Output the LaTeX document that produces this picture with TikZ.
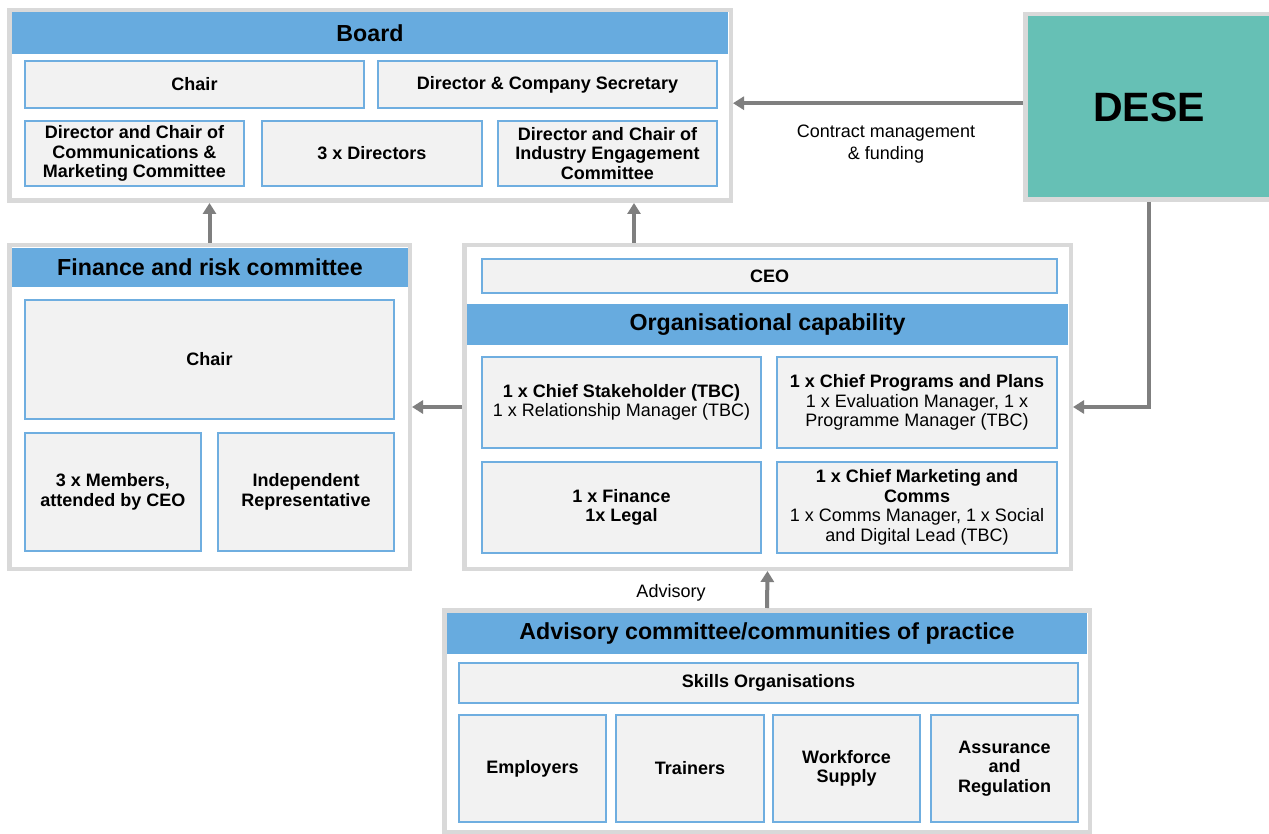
\documentclass[tikz,border=0pt]{standalone}
\usepackage{fontspec}
\setmainfont{Liberation Sans}
\usetikzlibrary{arrows.meta,calc}
\definecolor{hdrblue}{HTML}{67ABDF}
\definecolor{bxblue}{HTML}{6FAEE0}
\definecolor{bxfill}{HTML}{F2F2F2}
\definecolor{outgray}{HTML}{D9D9D9}
\definecolor{tealbox}{HTML}{66C0B5}
\definecolor{arrgray}{HTML}{7F7F7F}
% #1 style, #2 line width (number), #3 x1, #4 y1, #5 x2, #6 y2, #7 name, #8 text
\newcommand\bx[8]{\node[#1, line width=#2pt, minimum width={#5-#3-#2}, minimum height={#6-#4-#2}] (#7) at ({(#3+#5)/2},{(#4+#6)/2}) {#8};}
\begin{document}
\begin{tikzpicture}[x=1pt,y=-1pt,
  every node/.style={inner sep=0pt, align=center, text=black},
  outerbox/.style={draw=outgray, fill=white},
  hdr/.style={fill=hdrblue, font=\fontsize{23.2}{27}\selectfont\bfseries},
  ibox/.style={draw=bxblue, fill=bxfill, font=\fontsize{18}{19.5}\selectfont\bfseries},
  desebox/.style={draw=outgray, fill=tealbox, font=\fontsize{41}{45}\selectfont\bfseries},
  lbl/.style={font=\fontsize{18}{22}\selectfont},
  arr/.style={draw=arrgray, line width=4pt, -{Triangle[width=13pt,length=11pt]}}
]
\useasboundingbox (0,0) rectangle (1269,834);
\fill[white] (0,0) rectangle (1269,834);

% ---------- Board ----------
\bx{outerbox}{4.5}{7}{8}{733}{203}{board}{}
\bx{hdr}{0}{12}{12}{728}{54}{boardh}{Board}
\bx{ibox}{2}{24}{60}{365}{109}{bchair}{Chair}
\bx{ibox}{2}{377}{60}{718}{109}{bsec}{Director \& Company Secretary}
\bx{ibox}{2}{24}{120}{245}{187}{bcomms}{Director and Chair of\\Communications \&\\Marketing Committee}
\bx{ibox}{2}{261}{120}{483}{187}{bdirs}{3 x Directors}
\bx{ibox}{2}{497}{120}{718}{187}{bind}{Director and Chair of\\Industry Engagement\\Committee}

% ---------- DESE ----------
\bx{desebox}{4.5}{1023}{12}{1275}{202}{dese}{DESE}

% ---------- Finance and risk committee ----------
\bx{outerbox}{4.5}{7}{243}{412}{571}{fin}{}
\bx{hdr}{0}{12}{248}{408}{287}{finh}{Finance and risk committee}
\bx{ibox}{2}{24}{299}{395}{420}{fchair}{Chair}
\bx{ibox}{2}{24}{432}{202}{552}{fmem}{3 x Members,\\attended by CEO}
\bx{ibox}{2}{217}{432}{395}{552}{findep}{Independent\\Representative}

% ---------- Organisational capability ----------
\bx{outerbox}{4.5}{462}{243}{1073}{571}{org}{}
\bx{ibox}{2}{481}{258}{1058}{294}{ceo}{CEO}
\bx{hdr}{0}{467}{304}{1068}{345}{orgh}{Organisational capability}
\bx{ibox}{2}{481}{356}{762}{449}{ostake}{1 x Chief Stakeholder (TBC)\\{\mdseries 1 x Relationship Manager (TBC)}}
\bx{ibox}{2}{776}{356}{1058}{449}{oprog}{1 x Chief Programs and Plans\\{\mdseries 1 x Evaluation Manager, 1 x}\\{\mdseries Programme Manager (TBC)}}
\bx{ibox}{2}{481}{461}{762}{554}{ofin}{1 x Finance\\1x Legal}
\bx{ibox}{2}{776}{461}{1058}{554}{omark}{1 x Chief Marketing and\\Comms\\{\mdseries 1 x Comms Manager, 1 x Social}\\{\mdseries and Digital Lead (TBC)}}

% ---------- Advisory committee ----------
\bx{outerbox}{4.5}{442}{608}{1092}{834}{adv}{}
\bx{hdr}{0}{447}{613}{1087}{654}{advh}{Advisory committee/communities of practice}
\bx{ibox}{2}{458}{662}{1079}{704}{askills}{Skills Organisations}
\bx{ibox}{2}{458}{714}{607}{823}{aemp}{Employers}
\bx{ibox}{2}{615}{714}{765}{823}{atrain}{Trainers}
\bx{ibox}{2}{772}{714}{921}{823}{awork}{Workforce\\Supply}
\bx{ibox}{2}{930}{714}{1079}{823}{aassur}{Assurance\\and\\Regulation}

% ---------- Labels ----------
\node[lbl] (contractlbl) at (886,144) {Contract management\\\& funding};
\node[lbl] (advlbl) at (671,593) {Advisory};

% ---------- Connectors ----------
\coordinate (orgtop) at ($(org.north west)!0.2815!(org.north east)$);
\coordinate (desel) at ($(dese.north west)!0.48!(dese.south west)$);
\draw[arr] (fin.north) -- (fin.north |- board.south);
\draw[arr] (orgtop) -- (orgtop |- board.south);
\draw[arr] (desel) -- (desel -| board.east);
\draw[arr] (dese.south) |- (org.east);
\draw[arr] (org.west) -- (fin.east);
\draw[arr] (adv.north) -- (org.south);
\end{tikzpicture}
\end{document}
